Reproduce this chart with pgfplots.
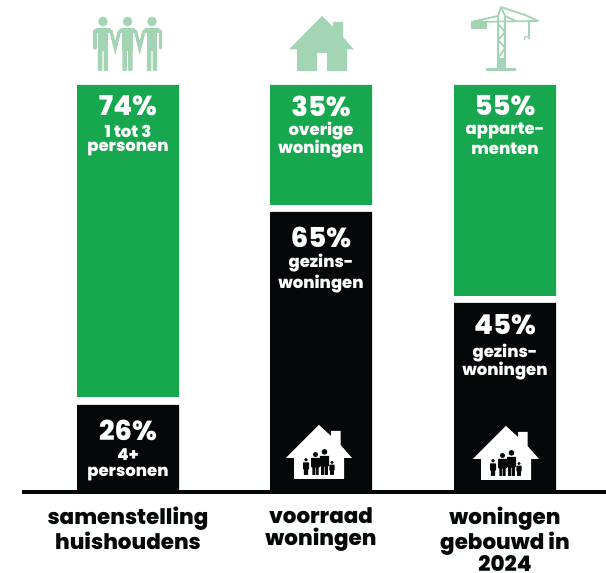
\documentclass[border=0pt]{standalone}
\usepackage{pgfplots}
\pgfplotsset{compat=1.18}
\usepackage{fontspec}
\setmainfont{Poppins}[BoldFont={Poppins ExtraBold}]
\definecolor{bargreen}{HTML}{17A84F}
\definecolor{barblack}{HTML}{050808}
\definecolor{palegreen}{HTML}{A3D4B3}
\pgfplotstableread{
x    black gap green
128  87    8   312
321  280   7   120
505  189   7   211
}\datatable
\newcommand{\person}[5]{% x, top, bottom, halfwidth, colour
  \pgfmathsetmacro{\h}{#3-#2}\pgfmathsetmacro{\w}{#4}
  \fill[#5] (#1,#2+0.11*\h) circle[radius=0.11*\h];
  \fill[#5,rounded corners=0.4pt] (#1-\w,#2+0.26*\h) -- (#1+\w,#2+0.26*\h)
     -- (#1+\w,#2+0.66*\h) -- (#1+0.72*\w,#2+0.66*\h) -- (#1+0.72*\w,#3) -- (#1+0.06*\w,#3)
     -- (#1+0.06*\w,#2+0.66*\h) -- (#1-0.06*\w,#2+0.66*\h) -- (#1-0.06*\w,#3) -- (#1-0.72*\w,#3)
     -- (#1-0.72*\w,#2+0.66*\h) -- (#1-\w,#2+0.66*\h) -- cycle;
}
\newcommand{\adult}[1]{% pale figure centred at x
  \fill[palegreen] (#1,21.5) circle[radius=4.8];
  \fill[palegreen,rounded corners=2pt] (#1-8,28) -- (#1+8,28) -- (#1+8,33) -- (#1-8,33) -- cycle;
  \fill[palegreen] (#1-5.2,29) rectangle (#1+5.2,51);
  \fill[palegreen,rounded corners=1pt] (#1-5.2,49) rectangle (#1-0.6,71);
  \fill[palegreen,rounded corners=1pt] (#1+0.6,49) rectangle (#1+5.2,71);
}
\newcommand{\familyhouse}[2]{% apex x, y offset
  \begin{scope}[shift={(#1-319,#2)}]
    \fill[white] (319,425) -- (331,436) -- (331,431) -- (340.5,431) -- (340.5,445) -- (352,458) -- (344,458)
      -- (344,479) -- (294,479) -- (294,458) -- (286,458) -- cycle;
    \person{306}{458}{475}{3}{barblack}
    \person{315.5}{452}{475}{4.5}{barblack}
    \person{324.5}{449}{475}{4.7}{barblack}
    \person{332}{461}{475}{2.6}{barblack}
  \end{scope}
}
\newcommand{\pct}[3]{\node[text=white,font=\fontsize{27.5}{27.5}\selectfont\bfseries] at (#1,#2) {#3};}
\newcommand{\sub}[3]{\node[text=white,font=\fontsize{16.5}{16.5}\selectfont\bfseries] at (#1,#2) {#3};}
\begin{document}
\begin{tikzpicture}
\useasboundingbox (0,0) rectangle (606bp,573bp);
\begin{axis}[
  at={(22bp,81bp)}, anchor=south west,
  scale only axis, width=584bp, height=492bp,
  xmin=22, xmax=606, ymin=0, ymax=492,
  axis x line=bottom, axis y line=none,
  x axis line style={-, line width=4bp, color=barblack},
  ybar stacked, bar width=102,
  xtick={128,321,505},
  xticklabels={{samenstelling\\huishoudens},{voorraad\\woningen},{woningen\\gebouwd in\\2024}},
  major tick length=0pt,
  xticklabel style={align=center, font=\fontsize{21.5}{23}\selectfont\bfseries, text=barblack, yshift=-15bp, inner sep=0pt},
  clip=false,
]
\addplot[fill=barblack, draw=none] table[x=x, y=black] {\datatable};
\addplot[fill=none, draw=none] table[x=x, y=gap] {\datatable};
\addplot[fill=bargreen, draw=none] table[x=x, y=green] {\datatable};
\end{axis}
\begin{scope}[x=1bp, y=-1bp, shift={(0,573bp)}]
  \pct{128}{106}{74\%}
  \sub{128}{131}{1 tot 3}
  \sub{128}{149}{personen}
  \pct{321}{106}{35\%}
  \sub{321}{131}{overige}
  \sub{321}{149}{woningen}
  \pct{505}{106}{55\%}
  \sub{505}{131}{apparte-}
  \sub{505}{149}{menten}
  \pct{321}{237}{65\%}
  \sub{321}{263}{gezins-}
  \sub{321}{284}{woningen}
  \pct{505}{325}{45\%}
  \sub{505}{353}{gezins-}
  \sub{505}{371}{woningen}
  \pct{128}{430}{26\%}
  \sub{128}{455}{4+}
  \sub{128}{474}{personen}
  % icons
  \adult{103}
  \adult{127.5}
  \adult{152}
  \begin{scope}[palegreen, line width=3.4bp, line cap=round]
    \draw (94.8,31) -- (94.8,48);
    \draw (111,31) -- (115.2,48) -- (119.5,31);
    \draw (135.5,31) -- (139.7,48) -- (144,31);
    \draw (160.2,31) -- (160.2,48);
  \end{scope}
  \fill[palegreen] (322,16) -- (333,27) -- (333,22) -- (343,22) -- (343,37) -- (354,49.5) -- (347,49.5)
    -- (347,71) -- (327,71) -- (327,53) -- (317,53) -- (317,71) -- (297,71) -- (297,49.5) -- (289,49.5) -- cycle;
  % crane
  \begin{scope}[palegreen, line width=1.8bp, line join=round]
    \fill (486,68.5) rectangle (516,71);
    \fill (497,58) rectangle (506,69);
    \draw (498,58) -- (498,16) (505,58) -- (505,16);
    \draw (498,24) -- (505,32) -- (498,40) -- (505,48) -- (498,58);
    \draw (471,22) -- (538,21) -- (525,15) -- (501,7) -- (498,16) -- (471,22);
    \draw (501,7) -- (505,16) -- (516,21);
    \fill (471,21) rectangle (487,29);
    \draw[line width=2.2bp] (529,22) -- (529,36);
    \draw[line width=1.2bp] (529,36) -- (529,39) arc[start angle=0, end angle=-200, radius=2.5];
  \end{scope}
  \familyhouse{319}{0}
  \familyhouse{506}{1}
\end{scope}
\end{tikzpicture}
\end{document}
